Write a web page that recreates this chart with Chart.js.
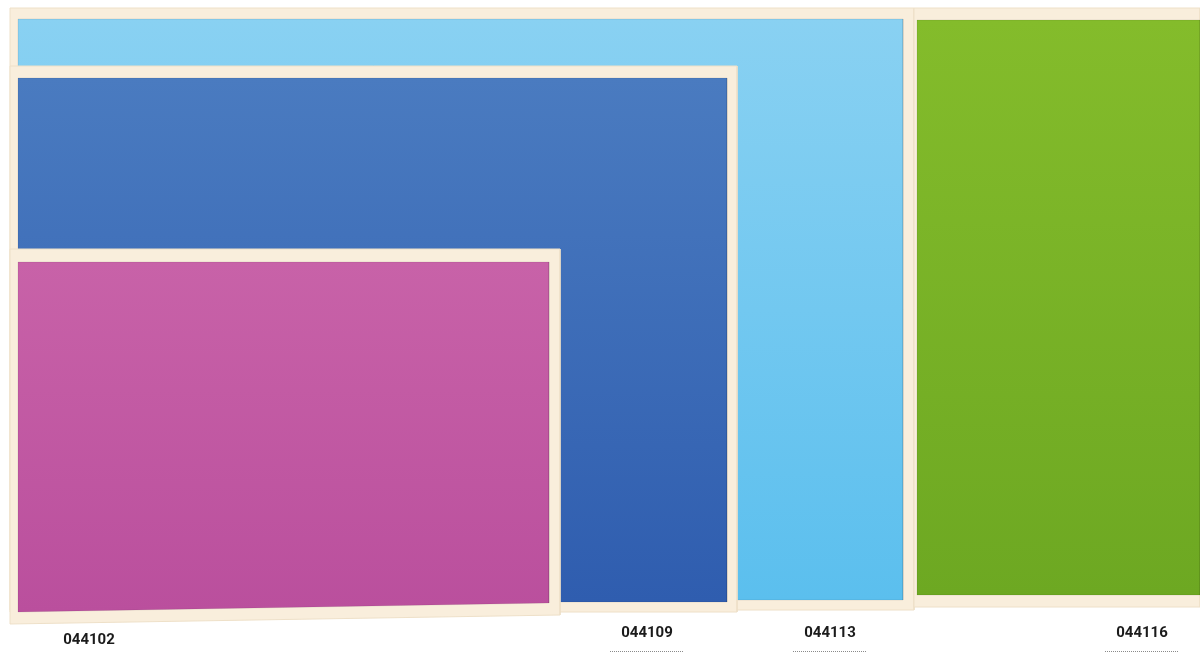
<!DOCTYPE html>
<html>
<head>
<meta charset="utf-8">
<style>
  html, body { margin: 0; padding: 0; background: #ffffff; }
  #wrap { width: 1200px; height: 653px; position: relative; }
</style>
<script src="https://cdn.jsdelivr.net/npm/chart.js@4/dist/chart.umd.min.js"></script>
</head>
<body>
<div id="wrap"><canvas id="boardChart"></canvas></div>
<script>
// Boards, drawn back to front
const codes = ['044113', '044116', '044109', '044102'];

// Wooden frame bounds
const frameLeft = [10, 914, 10, 10];
const frameRight = [914, 1200, 737, 560];
const frameTop = [8, 8, 66, 249];
const frameBottomL = [610, 607, 612, 624];
const frameBottomR = [610, 607, 612, 615];

// Coloured panel bounds
const panelLeft = [18, 917, 18, 18];
const panelRight = [903, 1200, 727, 549];
const panelTop = [19, 20, 78, 262];
const panelBottomL = [600, 595, 602, 612];
const panelBottomR = [600, 595, 602, 603];

// Panel colours (top, bottom)
const panelTopColor = ['#89d1f2', '#84bc2b', '#4a7bc0', '#c862a8'];
const panelBottomColor = ['#5bbfee', '#6da822', '#2f5daf', '#ba4f9d'];
const frameColor = '#f9eedc';

// Code labels underneath (same order as codes)
const labelX = [830, 1142, 647, 89];
const labelY = [633, 633, 633, 640];
const underlined = [true, true, true, false];

function rect(l, r, t, bl, br) {
    return [
        { x: l, y: t },
        { x: r, y: t },
        { x: r, y: br },
        { x: l, y: bl },
        { x: l, y: t }
    ];
}

function panelGradient(i) {
    return (context) => {
        const chart = context.chart;
        const { ctx, scales, chartArea } = chart;
        if (!chartArea || !scales.y) return panelTopColor[i];
        const y0 = scales.y.getPixelForValue(panelTop[i]);
        const y1 = scales.y.getPixelForValue(panelBottomL[i]);
        if (!isFinite(y0) || !isFinite(y1)) return panelTopColor[i];
        const g = ctx.createLinearGradient(0, y0, 0, y1);
        g.addColorStop(0, panelTopColor[i]);
        g.addColorStop(1, panelBottomColor[i]);
        return g;
    };
}

const datasets = [];
codes.forEach((code, i) => {
    datasets.push({
        label: code + ' frame',
        data: rect(frameLeft[i], frameRight[i], frameTop[i], frameBottomL[i], frameBottomR[i]),
        showLine: true,
        fill: 'shape',
        backgroundColor: frameColor,
        borderColor: '#eee0c8',
        borderWidth: 1,
        pointRadius: 0,
        tension: 0,
        order: 100 - i * 2
    });
    datasets.push({
        label: code,
        data: rect(panelLeft[i], panelRight[i], panelTop[i], panelBottomL[i], panelBottomR[i]),
        showLine: true,
        fill: 'shape',
        backgroundColor: panelGradient(i),
        borderColor: 'rgba(0,0,0,0.08)',
        borderWidth: 1,
        pointRadius: 0,
        tension: 0,
        order: 99 - i * 2
    });
});

// Product codes under the boards
const codeLabels = {
    id: 'codeLabels',
    afterDraw(chart) {
        const { ctx, scales } = chart;
        ctx.save();
        ctx.font = 'bold 15px Roboto, "DejaVu Sans", sans-serif';
        ctx.fillStyle = '#1b1b1b';
        ctx.textAlign = 'center';
        ctx.textBaseline = 'middle';
        codes.forEach((code, i) => {
            const px = scales.x.getPixelForValue(labelX[i]);
            const py = scales.y.getPixelForValue(labelY[i]);
            ctx.fillText(code, px, py);
            if (underlined[i]) {
                const w = 74;
                ctx.strokeStyle = '#8a8a8a';
                ctx.lineWidth = 1;
                ctx.setLineDash([1, 1]);
                ctx.beginPath();
                ctx.moveTo(px - w / 2, py + 18.5);
                ctx.lineTo(px + w / 2, py + 18.5);
                ctx.stroke();
                ctx.setLineDash([]);
            }
        });
        ctx.restore();
    }
};

new Chart(document.getElementById('boardChart'), {
    type: 'scatter',
    data: { datasets },
    options: {
        responsive: true,
        maintainAspectRatio: false,
        animation: false,
        layout: { padding: 0 },
        plugins: {
            legend: { display: false },
            tooltip: { enabled: false }
        },
        scales: {
            x: { type: 'linear', min: 0, max: 1200, display: false },
            y: { type: 'linear', min: 0, max: 653, reverse: true, display: false }
        }
    },
    plugins: [codeLabels]
});
</script>
</body>
</html>
